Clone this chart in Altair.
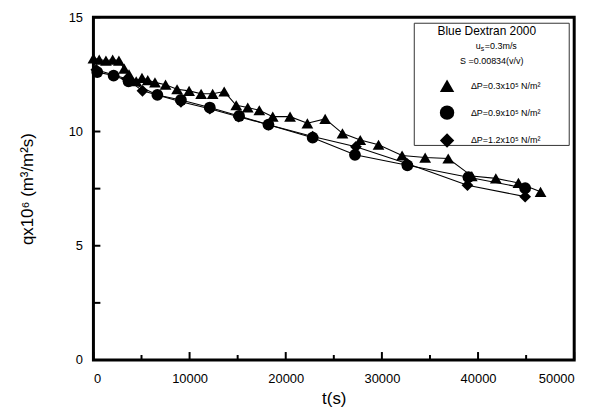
import altair as alt
import pandas as pd

# ---- data ----
tri_t = [0, 600, 1300, 2000, 2650, 3200, 3700, 4450, 5050, 5650, 6400, 7500, 8700, 9950,
         11200, 12400, 13600, 14850, 16050, 17250, 18650, 20450, 22250, 24100, 25900, 27750,
         29650, 32100, 34500, 36900, 39350, 41850, 44200, 46500]
tri_q = [13.2, 13.15, 13.1, 13.15, 13.1, 12.75, 12.5, 12.2, 12.35, 12.25, 12.15, 12.05, 11.85, 11.78,
         11.65, 11.65, 11.75, 11.15, 11.05, 10.93, 10.65, 10.65, 10.36, 10.55, 9.92, 9.63,
         9.42, 8.95, 8.86, 8.82, 8.05, 7.95, 7.75, 7.36]
cir_t = [400, 2100, 3650, 6650, 9100, 12100, 15150, 18200, 22800, 27200, 32650, 39000, 44900]
cir_q = [12.6, 12.45, 12.2, 11.6, 11.38, 11.05, 10.68, 10.3, 9.73, 8.98, 8.52, 8.0, 7.52]
dia_t = [300, 3500, 5100, 9100, 12100, 15100, 18200, 22800, 27300, 32600, 38900, 44900]
dia_q = [12.7, 12.3, 11.78, 11.3, 11.0, 10.65, 10.3, 9.78, 9.33, 8.6, 7.65, 7.15]

series = ["ΔP=0.3x10⁵ N/m²", "ΔP=0.9x10⁵ N/m²", "ΔP=1.2x10⁵ N/m²"]
shapes = ["triangle-up", "circle", "diamond"]

x_major = [0, 10000, 20000, 30000, 40000, 50000]
x_minor = [5000, 15000, 25000, 35000, 45000]
y_ticks = [0, 2.5, 5, 7.5, 10, 12.5, 15]
title_main = "Blue Dextran 2000"
vel_parts = ["u", "s", "=0.3m/s"]
conc_text = "S =0.00834(v/v)"

rows = []
for s, ts, qs in zip(series, [tri_t, cir_t, dia_t], [tri_q, cir_q, dia_q]):
    for t, q in zip(ts, qs):
        rows.append({"t": t, "q": q, "series": s})
df = pd.DataFrame(rows)

W, H = 484, 345
FONT = "Liberation Sans"

xs = alt.Scale(domain=[0, 50000], nice=False)
ys = alt.Scale(domain=[0, 15], nice=False)

x_enc = alt.X("t:Q", scale=xs, title="t(s)",
              axis=alt.Axis(values=x_major, format="d", tickSize=0, labelPadding=13,
                            labelFontSize=13, titleFontSize=17, titlePadding=5,
                            domain=False, grid=False, labelFont=FONT, titleFont=FONT,
                            titleFontWeight="normal", labelColor="black", titleColor="black"))
y_enc = alt.Y("q:Q", scale=ys, title="qx10⁶ (m³/m²s)",
              axis=alt.Axis(values=[0, 5, 10, 15], tickSize=0, labelPadding=11,
                            labelFontSize=13, titleFontSize=17, titlePadding=32,
                            domain=False, grid=False, labelFont=FONT, titleFont=FONT,
                            titleFontWeight="normal", labelColor="black", titleColor="black"))

base = alt.Chart(df)
lines = base.mark_line(color="black", strokeWidth=1.1).encode(
    x=x_enc, y=y_enc, detail="series:N", order="t:Q")
points = base.mark_point(filled=True, opacity=1, color="black", size=140).encode(
    x=alt.X("t:Q", scale=xs), y=alt.Y("q:Q", scale=ys),
    shape=alt.Shape("series:N", scale=alt.Scale(domain=series, range=shapes),
                    legend=alt.Legend(orient="none", legendX=348, legendY=61, title=None,
                                      symbolSize=210, symbolFillColor="black",
                                      symbolStrokeColor="black", labelFontSize=9,
                                      labelFont=FONT, labelOffset=16, rowPadding=6,
                                      labelColor="black")))

xmaj = alt.Chart(pd.DataFrame({"v": x_major})).mark_rule(color="black", strokeWidth=2).encode(
    x=alt.X("v:Q", scale=xs), y=alt.value(H), y2=alt.value(H - 8))
xmin = alt.Chart(pd.DataFrame({"v": x_minor})).mark_rule(color="black", strokeWidth=2).encode(
    x=alt.X("v:Q", scale=xs), y=alt.value(H), y2=alt.value(H - 5))
ytk = alt.Chart(pd.DataFrame({"v": y_ticks})).mark_rule(color="black", strokeWidth=2).encode(
    y=alt.Y("v:Q", scale=ys), x=alt.value(0), x2=alt.value(7))

box = alt.Chart(pd.DataFrame({"a": [0]})).mark_rect(
    fill="white", stroke="#333333", strokeWidth=1).encode(
    x=alt.value(323), x2=alt.value(479), y=alt.value(6), y2=alt.value(129))

frame = alt.Chart(pd.DataFrame({"a": [0]})).mark_rect(
    fillOpacity=0, stroke="black", strokeWidth=3).encode(
    x=alt.value(0), x2=alt.value(W), y=alt.value(0), y2=alt.value(H))

t1 = alt.Chart(pd.DataFrame({"txt": [title_main]})).mark_text(
    fontSize=12, font=FONT, color="black").encode(
    text="txt:N", x=alt.value(396), y=alt.value(14))
u1 = alt.Chart(pd.DataFrame({"txt": [vel_parts[0]]})).mark_text(
    fontSize=9, font=FONT, color="black", align="left").encode(
    text="txt:N", x=alt.value(385), y=alt.value(29))
u2 = alt.Chart(pd.DataFrame({"txt": [vel_parts[1]]})).mark_text(
    fontSize=7, font=FONT, color="black", align="left").encode(
    text="txt:N", x=alt.value(390), y=alt.value(32))
u3 = alt.Chart(pd.DataFrame({"txt": [vel_parts[2]]})).mark_text(
    fontSize=9, font=FONT, color="black", align="left").encode(
    text="txt:N", x=alt.value(394), y=alt.value(29))
t3 = alt.Chart(pd.DataFrame({"txt": [conc_text]})).mark_text(
    fontSize=9, font=FONT, color="black").encode(
    text="txt:N", x=alt.value(401), y=alt.value(44))

chart = alt.layer(lines, box, t1, u1, u2, u3, t3, points, xmaj, xmin, ytk, frame).properties(
    width=W, height=H,
    autosize=alt.AutoSizeParams(type="none"),
    padding={"left": 86, "top": 8, "right": 30, "bottom": 48},
).configure_view(stroke=None).configure(background="white")

chart.save("out.html", embed_options={"renderer": "svg", "actions": False})
